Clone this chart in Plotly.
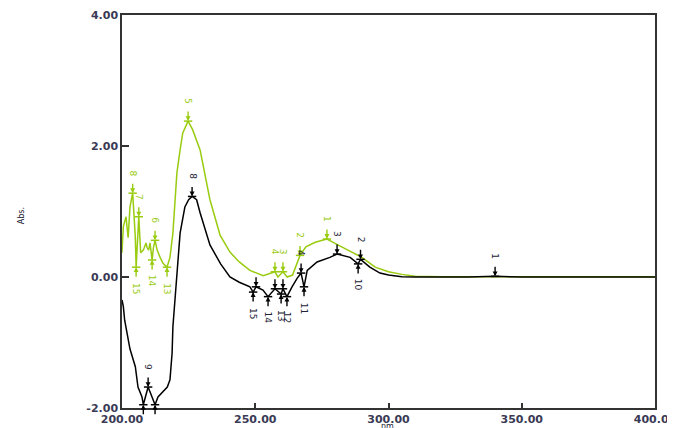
import plotly.graph_objects as go

# ---- data ----
black_nm = [200.0, 200.5, 201.0, 203.0, 205.0, 206.0, 207.5, 208.0, 209.8, 211.0, 212.4, 213.5,
            217.0, 218.0, 218.8, 219.1, 219.9, 220.6, 221.8, 223.6, 225.0, 226.3, 228.0, 229.3,
            233.0, 237.0, 240.5, 244.0, 248.0, 249.2, 250.3, 252.9, 254.8, 257.4, 259.7, 260.4,
            261.9, 263.8, 265.7, 267.2, 268.3, 269.5, 273.2, 278.0, 280.7, 285.6, 288.6, 289.5,
            293.0, 296.8, 300.0, 305.0, 310.0, 330.0, 340.0, 350.0, 400.0]
black_abs = [-0.35, -0.45, -0.66, -1.10, -1.37, -1.68, -1.83, -1.95, -1.68, -1.80, -1.95, -1.83,
             -1.68, -1.57, -1.16, -0.76, -0.35, 0.06, 0.67, 1.07, 1.18, 1.23, 1.18, 0.98,
             0.49, 0.20, 0.00, -0.08, -0.15, -0.23, -0.15, -0.20, -0.30, -0.18, -0.26, -0.18,
             -0.30, -0.15, -0.02, 0.06, -0.15, 0.10, 0.23, 0.30, 0.35, 0.30, 0.20, 0.27,
             0.15, 0.06, 0.03, 0.005, 0.0, 0.0, 0.01, 0.0, 0.0]

green_nm = [200.0, 200.5, 201.5, 202.3, 203.0, 204.0, 204.5, 205.0, 205.3, 205.8, 206.3, 207.0,
            208.0, 209.0, 209.4, 210.0, 210.5, 211.3, 211.8, 212.4, 213.2, 214.3, 215.4, 216.9,
            218.0, 219.1, 220.0, 220.6, 221.8, 222.8, 224.8, 226.5, 229.3, 233.0, 236.8, 240.5,
            244.0, 248.0, 253.0, 257.4, 258.5, 260.4, 262.0, 264.0, 266.8, 269.0, 272.5, 276.9,
            281.0, 286.0, 290.0, 295.0, 300.0, 305.0, 310.0, 320.0, 400.0]
green_abs = [0.37, 0.77, 0.92, 0.60, 1.07, 1.28, 0.95, 0.60, 0.15, 0.60, 0.92, 0.37,
             0.41, 0.52, 0.45, 0.41, 0.52, 0.26, 0.45, 0.56, 0.41, 0.30, 0.21, 0.15,
             0.30, 0.67, 1.17, 1.59, 1.94, 2.20, 2.38, 2.25, 1.94, 1.18, 0.64, 0.38,
             0.23, 0.10, 0.02, 0.08, 0.00, 0.08, 0.00, 0.03, 0.33, 0.46, 0.53, 0.58,
             0.49, 0.38, 0.30, 0.15, 0.08, 0.04, 0.01, 0.005, 0.005]

# peak / valley labels: (nm, abs, label, kind)
black_marks = [
    (226.3, 1.23, "8", "peak"), (209.8, -1.68, "9", "peak"),
    (208.0, -1.95, "", "valley"), (212.4, -1.95, "", "valley"),
    (280.7, 0.35, "3", "peak"), (289.5, 0.27, "2", "peak"), (288.6, 0.20, "10", "valley"),
    (267.2, 0.06, "4", "peak"), (268.3, -0.15, "11", "valley"),
    (249.2, -0.23, "15", "valley"), (250.3, -0.15, "", "peak"),
    (254.8, -0.30, "14", "valley"), (259.7, -0.26, "13", "valley"), (261.9, -0.30, "12", "valley"),
    (257.4, -0.18, "", "peak"), (260.4, -0.18, "", "peak"),
    (340.0, 0.01, "1", "peak"),
]
green_marks = [
    (224.8, 2.38, "5", "peak"), (204.0, 1.28, "8", "peak"), (206.3, 0.92, "7", "peak"),
    (212.4, 0.56, "6", "peak"), (205.3, 0.15, "15", "valley"), (211.3, 0.26, "14", "valley"),
    (216.9, 0.15, "13", "valley"), (276.9, 0.58, "1", "peak"), (266.8, 0.33, "2", "peak"),
    (257.4, 0.08, "4", "peak"), (260.4, 0.08, "3", "peak"),
]

x_ticks = [200, 250, 300, 350, 400]
y_ticks = [-2, 0, 2, 4]

GREEN = "#99cc11"
BLACK = "#000000"

fig = go.Figure()
fig.add_trace(go.Scatter(x=green_nm, y=green_abs, mode="lines",
                         line=dict(color=GREEN, width=1.5), showlegend=False))
fig.add_trace(go.Scatter(x=black_nm, y=black_abs, mode="lines",
                         line=dict(color=BLACK, width=1.5), showlegend=False))

annotations = []
for marks, col, tcol in [(green_marks, GREEN, GREEN), (black_marks, BLACK, "#222233")]:
    xs = [m[0] for m in marks]
    ys = [m[1] for m in marks]
    fig.add_trace(go.Scatter(x=xs, y=ys, mode="markers",
                             marker=dict(symbol="line-ew", size=6,
                                         line=dict(color=col, width=1.5)),
                             showlegend=False, hoverinfo="skip"))
    for x, y, lab, kind in marks:
        off = -11 if kind == "peak" else 11
        annotations.append(dict(x=x, y=y, xref="x", yref="y", text="", showarrow=True,
                                ax=0, ay=off, arrowhead=2, arrowsize=0.7, arrowwidth=1.4,
                                arrowcolor=col, standoff=0))
        if lab:
            annotations.append(dict(x=x, y=y, xref="x", yref="y", text=lab, showarrow=False,
                                    textangle=90, font=dict(size=9, color=tcol,
                                                            family="DejaVu Sans"),
                                    yshift=(-21 if kind == "valley" else 20)))

annotations.append(dict(text="Abs.", xref="paper", yref="paper", x=-0.2, y=0.49,
                        showarrow=False, textangle=-90,
                        font=dict(size=8, color="#222233", family="DejaVu Sans")))
annotations.append(dict(text="nm.", xref="paper", yref="paper", x=0.5, y=0,
                        yanchor="middle", yshift=-18, showarrow=False,
                        font=dict(size=8, color="#222233", family="DejaVu Sans")))

tickfont = dict(size=11, color="#3a3a55", family="DejaVu Sans", weight="bold")
fig.update_layout(
    width=675, height=428,
    margin=dict(l=114, r=28, t=7, b=28, autoexpand=False),
    paper_bgcolor="white", plot_bgcolor="white",
    annotations=annotations,
    xaxis=dict(range=[200, 400], tickvals=x_ticks,
               ticktext=[f"{v:.2f}" for v in x_ticks], automargin=False,
               ticks="inside", ticklen=5, tickcolor="#333333", tickwidth=1.5,
               showline=True, linecolor="#333333", linewidth=1.5, mirror=True,
               showgrid=False, zeroline=False, tickfont=tickfont),
    yaxis=dict(range=[-2, 4], tickvals=y_ticks,
               ticktext=[f"{v:.2f}" for v in y_ticks], automargin=False,
               ticks="inside", ticklen=7, tickcolor="#333333", tickwidth=1.5,
               showline=True, linecolor="#333333", linewidth=1.5, mirror=True,
               showgrid=False, zeroline=False, tickfont=tickfont),
)

fig.write_html("out.html")
